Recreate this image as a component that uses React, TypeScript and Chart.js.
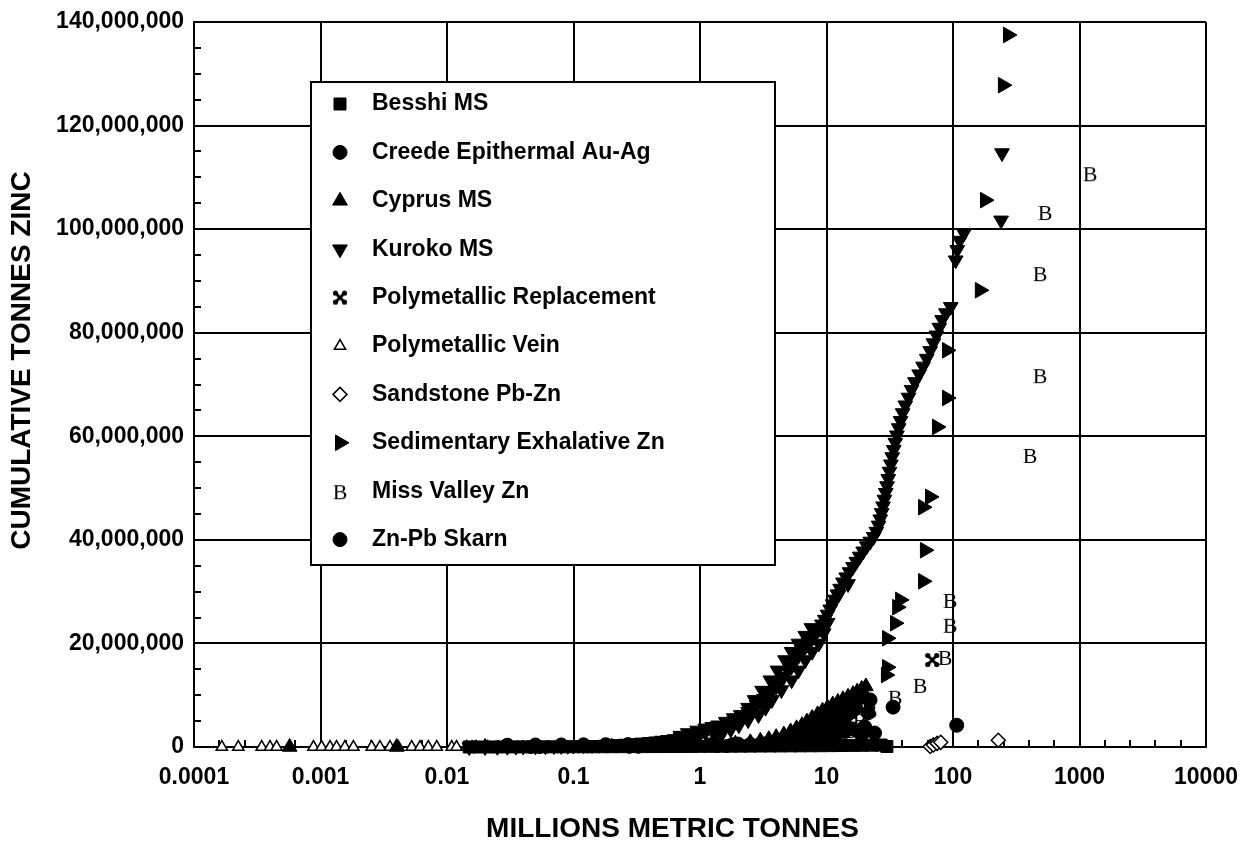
import React, { useEffect, useRef } from 'react';
import { Chart, registerables } from 'chart.js';
import { drawPoint } from 'chart.js/helpers';

Chart.register(...registerables);

const FONT = '"Liberation Sans", Arial, Helvetica, sans-serif';

const X_TICKS = [0.0001, 0.001, 0.01, 0.1, 1, 10, 100, 1000, 10000];
const X_TICK_LABELS = ['0.0001', '0.001', '0.01', '0.1', '1', '10', '100', '1000', '10000'];
const Y_TICK_LABELS = ['0', '20,000,000', '40,000,000', '60,000,000', '80,000,000', '100,000,000', '120,000,000', '140,000,000'];

const X_TITLE = 'MILLIONS METRIC TONNES';
const Y_TITLE = 'CUMULATIVE TONNES ZINC';

type P = [number, number];

const besshi: P[] = [
  [0.015, 0], [0.018, 0], [0.022, 5e3], [0.027, 1e4], [0.033, 1.5e4], [0.04, 2e4], [0.048, 2.5e4],
  [0.057, 3e4], [0.068, 3.5e4], [0.082, 4e4], [0.1, 4.5e4], [0.12, 5e4], [0.14, 5.5e4], [0.17, 6e4],
  [0.2, 6.5e4], [0.24, 7e4], [0.29, 7.5e4], [0.35, 8e4], [0.42, 8.5e4], [0.5, 9e4], [0.6, 1.0e5],
  [0.72, 1.1e5], [0.86, 1.2e5], [1.0, 1.3e5], [1.2, 1.4e5], [1.45, 1.5e5], [1.75, 1.6e5], [2.1, 1.7e5],
  [2.5, 1.8e5], [3.0, 1.9e5], [3.6, 2.0e5], [4.3, 2.1e5], [5.2, 2.2e5], [6.2, 2.3e5], [7.5, 2.4e5],
  [9.0, 2.5e5], [11, 2.7e5], [13, 2.9e5], [16, 3.1e5], [19, 3.3e5], [23, 3.5e5], [27, 3.8e5], [30, 1.0e5],
];

const creede: P[] = [
  [0.5, 3e5], [0.8, 3.5e5], [1.2, 4e5], [1.8, 4.5e5], [2.5, 5e5], [3.2, 6e5], [4, 8e5], [5, 1.2e6],
  [6, 1.6e6], [7, 2.2e6], [8, 2.8e6], [9, 3.4e6], [10, 4.0e6], [11, 4.5e6], [12, 5.0e6], [13, 5.5e6],
  [14, 6.0e6], [15, 6.5e6], [16, 7.0e6], [17, 7.5e6], [18.5, 2.7e6], [20, 3.9e6], [21.3, 6.6e6],
  [22.1, 9.1e6],
  [5.5, 2.4e6], [6.3, 3.0e6], [7.2, 3.7e6], [8.1, 4.4e6], [9.1, 5.1e6], [10.2, 5.8e6], [11.3, 6.4e6],
  [12.4, 7.0e6], [13.6, 7.5e6], [14.8, 8.0e6], [16, 8.5e6], [17.2, 9.0e6], [18.4, 9.6e6],
];

const cyprus: P[] = [
  [0.00057, 0], [0.004, 0], [0.02, 0], [0.03, 1e4], [0.05, 2e4], [0.08, 3e4], [0.12, 5e4], [0.2, 7e4],
  [0.3, 1e5], [0.45, 1.4e5], [0.7, 2e5], [1.0, 3e5], [1.4, 4.5e5], [1.9, 6.5e5], [2.5, 9e5],
  [3.0, 1.2e6], [3.5, 1.5e6], [4.0, 1.9e6], [4.6, 2.4e6], [5.2, 3.0e6], [5.8, 3.6e6], [6.4, 4.2e6],
  [7.0, 4.9e6], [7.7, 5.6e6], [8.5, 6.3e6], [9.3, 7.0e6], [10.2, 7.6e6], [11.2, 8.2e6], [12.3, 8.7e6],
  [13.5, 9.2e6], [14.8, 9.7e6], [16.2, 10.2e6], [17.5, 10.7e6], [19, 11.2e6], [20.5, 11.7e6],
];

const kuroko: P[] = [
  [0.015, 0], [0.02, 2e4], [0.025, 4e4], [0.03, 6e4], [0.035, 8e4], [0.04, 1.0e5], [0.05, 1.3e5],
  [0.06, 1.6e5], [0.07, 1.9e5], [0.08, 2.2e5], [0.09, 2.5e5], [0.1, 2.8e5], [0.12, 3.3e5], [0.14, 3.8e5],
  [0.16, 4.3e5], [0.18, 4.8e5], [0.2, 5.3e5], [0.23, 6.0e5], [0.26, 6.8e5], [0.3, 7.8e5], [0.35, 9.0e5],
  [0.4, 1.0e6], [0.45, 1.12e6], [0.5, 1.25e6], [0.56, 1.4e6], [0.63, 1.55e6], [0.7, 1.75e6], [0.8, 2.0e6],
  [0.9, 2.3e6], [1.0, 2.55e6], [1.1, 2.8e6], [1.25, 3.2e6], [1.4, 3.6e6], [1.55, 4.0e6], [1.7, 4.5e6],
  [1.85, 5.0e6], [2.0, 5.5e6], [2.2, 6.1e6], [2.4, 6.8e6], [2.6, 7.5e6], [2.8, 8.1e6], [3.0, 8.7e6],
  [3.2, 9.3e6], [3.45, 10.0e6], [3.7, 10.8e6], [4.0, 11.7e6], [4.3, 12.6e6], [4.6, 13.6e6], [5.0, 14.7e6],
  [5.3, 15.6e6], [5.6, 16.6e6], [6.0, 17.6e6], [6.4, 18.6e6], [6.8, 19.4e6], [7.2, 20.2e6], [7.7, 21.0e6],
  [8.2, 21.9e6], [8.7, 22.8e6], [9.2, 23.7e6], [9.7, 24.6e6], [10.2, 25.6e6], [10.7, 26.6e6], [11.2, 27.6e6],
  [11.7, 28.5e6], [12.2, 29.5e6], [12.8, 30.6e6], [13.5, 31.8e6], [14.3, 32.8e6], [15.2, 33.8e6],
  [16.2, 34.8e6], [17.2, 35.8e6], [18.3, 36.8e6], [19.5, 37.8e6], [20.8, 38.8e6], [22.2, 39.7e6],
  [23.6, 40.6e6], [24.8, 41.6e6], [25.8, 42.8e6], [26.6, 44.0e6], [27.3, 45.2e6], [28, 46.5e6],
  [28.7, 47.8e6], [29.4, 49.1e6], [30.1, 50.4e6], [30.8, 51.8e6], [31.5, 53.2e6], [32.3, 54.6e6],
  [33.1, 56.0e6], [34, 57.4e6], [35, 58.8e6], [36, 60.2e6], [37.2, 61.6e6], [38.5, 63.0e6], [40, 64.5e6],
  [42, 66.0e6], [44.5, 67.5e6], [47, 69.0e6], [50, 70.5e6], [54, 72.0e6], [58, 73.5e6], [62, 75.0e6],
  [66, 76.5e6], [70, 78.0e6], [74, 79.5e6], [78, 81.0e6], [82, 82.5e6], [88, 83.8e6], [96, 85.0e6],
  [105, 94.0e6], [108, 96.0e6], [113, 97.8e6], [122, 99.2e6], [240, 101.7e6], [244, 114.7e6],
];

// upper-left and lower-right edges of the thick Kuroko band
const kurokoBand: P[] = [
  [0.7, 2.2e6], [0.8, 2.7e6], [0.95, 3.2e6], [1.1, 3.6e6], [1.25, 3.9e6], [1.39, 4.2e6], [1.6, 4.9e6],
  [1.85, 5.6e6], [2.1, 6.2e6], [2.4, 7.6e6], [2.7, 9.1e6], [3.1, 10.9e6], [3.6, 12.9e6], [4.1, 14.8e6],
  [4.7, 16.8e6], [5.3, 18.4e6], [6.0, 20.0e6], [6.8, 21.5e6], [7.6, 23.0e6],
  [1.3, 2.4e6], [1.5, 2.7e6], [1.75, 3.4e6], [2.03, 4.2e6], [2.4, 5.2e6], [2.9, 6.2e6], [3.3, 7.6e6],
  [3.7, 9.1e6], [4.4, 11.0e6], [5.3, 12.9e6], [6.0, 14.8e6], [6.8, 16.8e6], [7.7, 18.4e6], [8.7, 20.0e6],
  [9.5, 22.0e6], [10.2, 24.0e6], [12.5, 29.5e6], [14.8, 31.5e6],
];

const replacement: P[] = [
  [0.05, 1e4], [0.3, 5e4], [1.5, 2e5], [4, 6e5], [9, 1.5e6], [15, 5e6], [19, 9e6], [68.5, 16.8e6],
];

const vein: P[] = [
  [0.000166, 0], [0.000224, 0], [0.000343, 0], [0.000399, 0], [0.00045, 0], [0.000574, 0], [0.00088, 0],
  [0.00102, 0], [0.00119, 0], [0.00134, 0], [0.00156, 0], [0.00182, 0], [0.00254, 0], [0.00295, 0],
  [0.00354, 0], [0.00412, 0], [0.00526, 0], [0.00612, 0], [0.00712, 0], [0.0083, 0], [0.0109, 0],
  [0.0119, 0], [0.0143, 0], [0.017, 1e4], [0.021, 2e4],
];

const sandstone: P[] = [[66, 1e5], [70, 4e5], [75, 7e5], [80, 9e5], [228, 1.3e6]];

const sedex: P[] = [
  [29.5, 13.9e6], [30.1, 15.4e6], [30.1, 21.0e6], [34.8, 23.9e6], [36.2, 27.0e6], [38.2, 28.4e6],
  [58, 32.0e6], [60, 38.0e6], [58, 46.3e6], [65.8, 48.3e6], [74.7, 61.8e6], [89.7, 67.4e6],
  [89.7, 76.6e6], [163, 88.2e6], [179, 105.6e6], [248, 127.8e6], [272, 137.5e6],
];

const missValley: P[] = [
  [15.3, 3.3e6], [18.4, 5.2e6], [22.1, 7.1e6], [34.8, 9.7e6], [54.8, 12.0e6], [86.4, 17.4e6],
  [94.7, 23.6e6], [94.7, 28.4e6], [406, 56.4e6], [487, 71.8e6], [487, 91.5e6], [534, 103.3e6],
  [1211, 110.8e6],
];

const skarn: P[] = [
  [0.03, 3.5e5], [0.05, 3.8e5], [0.08, 4.0e5], [0.12, 4.2e5], [0.18, 4.4e5], [0.27, 4.6e5], [0.4, 4.8e5],
  [0.6, 5.0e5], [0.9, 5.2e5], [1.3, 5.4e5], [2, 5.6e5], [3, 6.0e5], [4.5, 7e5], [6, 9e5], [8, 1.2e6],
  [10, 1.8e6], [12, 2.4e6], [14, 3.0e6], [16, 3.5e6], [19, 2.4e6], [24, 2.7e6], [33.6, 7.7e6], [107, 4.2e6],
];

function makeB(): HTMLCanvasElement {
  const c = document.createElement('canvas');
  c.width = 18; c.height = 20;
  const g = c.getContext('2d')!;
  g.fillStyle = '#000';
  g.font = '22px "Liberation Serif", "Times New Roman", serif';
  g.textAlign = 'center';
  g.textBaseline = 'alphabetic';
  g.fillText('B', 9, 18);
  return c;
}

function makeX(): HTMLCanvasElement {
  const c = document.createElement('canvas');
  c.width = 16; c.height = 16;
  const g = c.getContext('2d')!;
  g.strokeStyle = '#000';
  g.fillStyle = '#000';
  g.lineWidth = 3;
  g.lineCap = 'round';
  g.beginPath();
  g.moveTo(4, 4); g.lineTo(12, 12);
  g.moveTo(12, 4); g.lineTo(4, 12);
  g.stroke();
  [[3.5, 3.5], [12.5, 3.5], [3.5, 12.5], [12.5, 12.5]].forEach(([x, y]) => {
    g.beginPath(); g.arc(x, y, 2.6, 0, Math.PI * 2); g.fill();
  });
  return c;
}

const minorTicksPlugin = {
  id: 'minorTicks',
  beforeDatasetsDraw(chart: any) {
    const { ctx, chartArea, scales } = chart;
    ctx.save();
    ctx.strokeStyle = '#000';
    ctx.lineWidth = 2;
    ctx.beginPath();
    for (let k = -4; k < 4; k++) {
      for (let i = 1; i < 5; i++) {
        const px = Math.round(scales.x.getPixelForValue(Math.pow(10, k + i / 5)));
        ctx.moveTo(px, chartArea.bottom);
        ctx.lineTo(px, chartArea.bottom - 7);
      }
    }
    for (let v = 5e6; v < 140e6; v += 5e6) {
      if (v % 20e6 === 0) continue;
      const py = Math.round(scales.y.getPixelForValue(v));
      ctx.moveTo(chartArea.left, py);
      ctx.lineTo(chartArea.left + 7, py);
    }
    ctx.stroke();
    ctx.restore();
  },
};

const legendPlugin = {
  id: 'boxLegend',
  afterDatasetsDraw(chart: any) {
    const { ctx, chartArea } = chart;
    const left = chartArea.left + 117;
    const top = chartArea.top + 60;
    const w = 464;
    const h = 483;
    ctx.save();
    ctx.fillStyle = '#fff';
    ctx.fillRect(left, top, w, h);
    ctx.strokeStyle = '#000';
    ctx.lineWidth = 2;
    ctx.strokeRect(left, top, w, h);
    chart.data.datasets.forEach((ds: any, i: number) => {
      const y = top + 22 + i * 48.4;
      ctx.fillStyle = ds.pointBackgroundColor;
      ctx.strokeStyle = ds.pointBorderColor;
      ctx.lineWidth = ds.pointBorderWidth;
      drawPoint(ctx, {
        pointStyle: ds.pointStyle,
        rotation: ds.pointRotation || 0,
        radius: ds.pointRadius,
        borderWidth: ds.pointBorderWidth,
      } as any, left + 29, y);
      ctx.fillStyle = '#000';
      ctx.font = `bold 23px ${FONT}`;
      ctx.textAlign = 'left';
      ctx.textBaseline = 'middle';
      ctx.fillText(ds.label, left + 61, y);
    });
    ctx.restore();
  },
};

const titlesPlugin = {
  id: 'axisTitles',
  afterDraw(chart: any) {
    const { ctx } = chart;
    ctx.save();
    ctx.fillStyle = '#000';
    ctx.font = `bold 28px ${FONT}`;
    ctx.textAlign = 'center';
    ctx.textBaseline = 'middle';
    ctx.fillText(X_TITLE, 672.5, 829);
    ctx.translate(22.5, 360.5);
    ctx.rotate(-Math.PI / 2);
    ctx.fillText(Y_TITLE, 0, 0);
    ctx.restore();
  },
};

const toXY = (arr: P[]) => arr.map(([x, y]) => ({ x, y }));

export default function App() {
  const ref = useRef<HTMLCanvasElement | null>(null);

  useEffect(() => {
    if (!ref.current) return;
    const bImg = makeB();
    const xImg = makeX();
    const base = { showLine: false, clip: false as any, pointBorderColor: '#000', pointBackgroundColor: '#000', pointBorderWidth: 1 };
    const tickFont = { family: FONT, size: 23, weight: 'bold' as const };
    const chart = new Chart(ref.current, {
      type: 'scatter',
      data: {
        datasets: [
          { ...base, label: 'Besshi MS', data: toXY(besshi), pointStyle: 'rect', pointRadius: 8.5 },
          { ...base, label: 'Creede Epithermal Au-Ag', data: toXY(creede), pointStyle: 'circle', pointRadius: 7 },
          { ...base, label: 'Cyprus MS', data: toXY(cyprus), pointStyle: 'triangle', pointRadius: 8.5 },
          { ...base, label: 'Kuroko MS', data: toXY(kuroko.concat(kurokoBand)), pointStyle: 'triangle', pointRotation: 180, pointRadius: 8.5 },
          { ...base, label: 'Polymetallic Replacement', data: toXY(replacement), pointStyle: xImg, pointRadius: 7 },
          { ...base, label: 'Polymetallic Vein', data: toXY(vein), pointStyle: 'triangle', pointRadius: 6.5, pointBackgroundColor: '#fff', pointBorderWidth: 1.5 },
          { ...base, label: 'Sandstone Pb-Zn', data: toXY(sandstone), pointStyle: 'rectRot', pointRadius: 7, pointBackgroundColor: '#fff', pointBorderWidth: 1.5 },
          { ...base, label: 'Sedimentary Exhalative Zn', data: toXY(sedex), pointStyle: 'triangle', pointRotation: 90, pointRadius: 9 },
          { ...base, label: 'Miss Valley Zn', data: toXY(missValley), pointStyle: bImg, pointRadius: 7 },
          { ...base, label: 'Zn-Pb Skarn', data: toXY(skarn), pointStyle: 'circle', pointRadius: 7 },
        ] as any,
      },
      options: {
        animation: false,
        responsive: false,
        devicePixelRatio: 1,
        events: [],
        layout: { padding: { top: 22, right: 36, left: 0, bottom: 0 } },
        plugins: { legend: { display: false }, tooltip: { enabled: false } },
        scales: {
          x: {
            type: 'logarithmic',
            min: 0.0001,
            max: 10000,
            afterBuildTicks: (s: any) => { s.ticks = X_TICKS.map((v) => ({ value: v })); },
            afterFit: (s: any) => { s.height = 94; s.paddingRight = 0; s.paddingLeft = 0; },
            ticks: {
              callback: (_v: any, i: number) => X_TICK_LABELS[i],
              font: tickFont,
              color: '#000',
              padding: 17,
              maxRotation: 0,
              autoSkip: false,
            },
            grid: { color: '#000', lineWidth: 2, drawTicks: false },
            border: { color: '#000', width: 2 },
          },
          y: {
            type: 'linear',
            min: 0,
            max: 140e6,
            afterFit: (s: any) => { s.width = 194; s.paddingTop = 0; s.paddingBottom = 0; },
            ticks: {
              stepSize: 20e6,
              callback: (_v: any, i: number) => Y_TICK_LABELS[i],
              font: tickFont,
              color: '#000',
              padding: 10,
            },
            grid: { color: '#000', lineWidth: 2, drawTicks: false },
            border: { color: '#000', width: 2 },
          },
        },
      } as any,
      plugins: [minorTicksPlugin, legendPlugin, titlesPlugin],
    });
    return () => chart.destroy();
  }, []);

  return (
    <div style={{ position: 'fixed', left: 0, top: 0, width: 1242, height: 841, background: '#fff' }}>
      <canvas ref={ref} width={1242} height={841} style={{ display: 'block', width: 1242, height: 841 }} />
    </div>
  );
}
